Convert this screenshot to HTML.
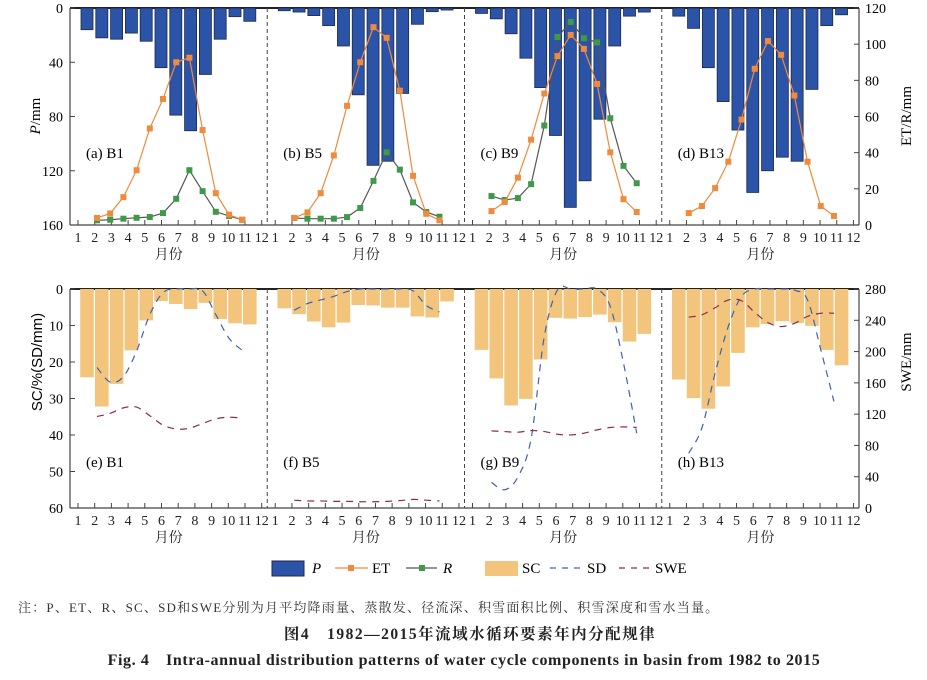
<!DOCTYPE html>
<html><head><meta charset="utf-8">
<style>
body{margin:0;background:#fff;width:927px;height:675px;overflow:hidden;font-family:"Liberation Serif","Noto Serif CJK SC",serif;}
svg text{font-family:"Liberation Serif","Noto Serif CJK SC",serif;}
</style></head>
<body>
<svg id="chart" width="927" height="675" xmlns="http://www.w3.org/2000/svg"></svg>
<script>
const months = [1,2,3,4,5,6,7,8,9,10,11,12];
const panelNames = ["B1","B5","B9","B13"];
const topLabels = ["(a) B1","(b) B5","(c) B9","(d) B13"];
const botLabels = ["(e) B1","(f) B5","(g) B9","(h) B13"];
const pTicks = [0,40,80,120,160];
const etTicks = [0,20,40,60,80,100,120];
const scTicks = [0,10,20,30,40,50,60];
const sweTicks = [0,40,80,120,160,200,240,280];

const P_B1 = [16,22,23,18.5,24.5,44,79,90.5,49,23,6.4,9.8];
const P_B5 = [2,3,5.6,13,28,64,116,113,63,12,2.7,1.5];
const P_B9 = [4,8,19,37,58.7,94,147,127.4,82,28,6,3];
const P_B13 = [6,15,44,69,90,136,120,110,113,60,13,5];
const ET_B1 = [3.9,6.4,15.4,30.3,53.4,69.7,90,92.5,52.5,17.6,5.7,2.9];
const ET_B5 = [3.9,7,17.6,38.5,65.9,90,109.4,103.5,74.3,27.2,6.2,2.6];
const ET_B9 = [7.7,12.7,26.2,47.2,72.7,93.4,105.1,97.4,78,40.2,14.3,7.2];
const ET_B13 = [6.6,10.5,20.4,35,58.3,86.4,101.7,94.1,71.6,35,10.5,5];
const R_B1 = [2.6,2.9,3.5,4,4.4,6.6,14.5,30.3,18.7,7.3,5,2.9];
const R_B5 = [3.9,3.5,3.5,3.5,4.4,9.4,24.4,40.2,30.6,12.5,7.2,4.6];
const R_B9 = [16,13.8,14.9,22.6,55,104,112.3,103.3,101,59,32.7,23.1];
const R_B13 = null;
const SC_B1 = [24.2,32.2,26,16.8,8.6,3.3,4.1,5.5,3.8,8.2,9.4,9.7];
const SC_B5 = [5.3,6.9,8.9,10.5,9.2,4.4,4.5,5.1,5.1,7.5,7.8,3.4];
const SC_B9 = [16.7,24.5,31.9,30.1,19.3,7.9,8.1,7.7,7,9.1,14.4,12.3];
const SC_B13 = [24.8,29.9,32.8,26.7,17.5,10.5,9.6,8.8,9.3,10.1,16.7,20.9];
const SD_B1 = [21.5,25.5,24,17,7,1,0,0,0.5,7,13.5,16.8];
const SD_B5 = [5.8,4,3,2,0.7,0,0,0,0,0.5,4.5,6.3];
const SD_B9 = [53,55,51.5,41,13,0.2,0,0,0,4.8,20.3,39.5];
const SD_B13 = [45,38,23,10.2,2,0,0,0,0.3,3,16.6,30.8];
const SWE_B1 = [117,121,128,129,118,106,101,102,108,114,116,115];
const SWE_B5 = [10,9,9,8.5,8.5,8,8,8.5,9.5,11,10,9];
const SWE_B9 = [98.6,97.7,96.9,99,97.7,94.3,93.4,95.6,99.9,102.9,103.7,103];
const SWE_B13 = [244,247,256,266,265,250,237,232,236,245,249,249];

const P_all=[P_B1,P_B5,P_B9,P_B13], ET_all=[ET_B1,ET_B5,ET_B9,ET_B13], R_all=[R_B1,R_B5,R_B9,R_B13];
const SC_all=[SC_B1,SC_B5,SC_B9,SC_B13], SD_all=[SD_B1,SD_B5,SD_B9,SD_B13], SWE_all=[SWE_B1,SWE_B5,SWE_B9,SWE_B13];

const NS="http://www.w3.org/2000/svg";
const svg=document.getElementById('chart');
function el(tag,attrs,parent,text){const e=document.createElementNS(NS,tag);for(const k in attrs)e.setAttribute(k,attrs[k]);if(text!==undefined)e.textContent=text;(parent||svg).appendChild(e);return e;}

const X0=70,X1=859,PW=(X1-X0)/4;
const T={top:8,bot:225}, B={top:289,bot:508};
const xTick=(p,m)=>X0+p*PW+8+(m-1)*16.7;
const xBar=(p,m)=>X0+p*PW+17+(m-1)*14.8;
const xPt=(p,m)=>X0+p*PW+27+(m-1)*13.2;
const yP=v=>T.top+v*(T.bot-T.top)/160;
const yET=v=>T.bot-v*(T.bot-T.top)/120;
const ySC=v=>B.top+v*(B.bot-B.top)/60;
const ySWE=v=>B.bot-v*(B.bot-B.top)/280;

function smooth(pts){let d=`M${pts[0][0]},${pts[0][1]}`;for(let i=0;i<pts.length-1;i++){const p0=pts[i-1]||pts[i],p1=pts[i],p2=pts[i+1],p3=pts[i+2]||p2;d+=` C${p1[0]+(p2[0]-p0[0])/6},${p1[1]+(p2[1]-p0[1])/6} ${p2[0]-(p3[0]-p1[0])/6},${p2[1]-(p3[1]-p1[1])/6} ${p2[0]},${p2[1]}`;}return d;}

function frame(A,isTop){
  const g=el('g',{},svg);
  
  
  el('line',{x1:X0,y1:A.top,x2:X1,y2:A.top,stroke:'#222','stroke-width':2},g);
  el('line',{x1:X0,y1:A.bot,x2:X1,y2:A.bot,stroke:'#444','stroke-width':1.2},g);
  el('line',{x1:X0,y1:A.top,x2:X0,y2:A.bot,stroke:'#444','stroke-width':1.2},g);
  el('line',{x1:X1,y1:A.top,x2:X1,y2:A.bot,stroke:'#444','stroke-width':1.2},g);
  for(let p=1;p<4;p++){const x=X0+p*PW;el('line',{x1:x,y1:A.top,x2:x,y2:A.bot,stroke:'#444','stroke-width':1,'stroke-dasharray':'4,3'},g);}
  for(let p=0;p<4;p++){
    months.forEach(m=>{const x=xTick(p,m);el('line',{x1:x,y1:A.bot,x2:x,y2:A.bot-5,stroke:'#444'},g);
      const t=el('text',{x:x,y:A.bot+17,'font-size':14,'text-anchor':'middle',fill:'#222'},g,String(m));
      });
    const xl=el('text',{x:X0+p*PW+PW/2,y:A.bot+34,'font-size':14,'text-anchor':'middle',fill:'#222'},g,'月份');
    
  }
}
frame(T,true);frame(B,false);

pTicks.forEach(v=>{const y=yP(v);el('line',{x1:X0,y1:y,x2:X0+5,y2:y,stroke:'#444'});
  const t=el('text',{x:X0-7,y:y+5,'font-size':14,'text-anchor':'end'},svg,String(v));});
etTicks.forEach(v=>{const y=yET(v);el('line',{x1:X1,y1:y,x2:X1-5,y2:y,stroke:'#444'});
  const t=el('text',{x:X1+6,y:y+5,'font-size':14},svg,String(v));});
scTicks.forEach(v=>{const y=ySC(v);el('line',{x1:X0,y1:y,x2:X0+5,y2:y,stroke:'#444'});
  const t=el('text',{x:X0-7,y:y+5,'font-size':14,'text-anchor':'end'},svg,String(v));});
sweTicks.forEach(v=>{const y=ySWE(v);el('line',{x1:X1,y1:y,x2:X1-5,y2:y,stroke:'#444'});
  const t=el('text',{x:X1+6,y:y+5,'font-size':14},svg,String(v));});

let t;
t=el('text',{transform:'translate(40,116) rotate(-90)','font-size':15,'text-anchor':'middle'},svg);
el('tspan',{'font-style':'italic'},t,'P');el('tspan',{},t,'/mm');
t=el('text',{transform:'translate(911,116) rotate(-90)','font-size':15,'text-anchor':'middle'},svg,'ET/R/mm');
t=el('text',{transform:'translate(42,362) rotate(-90)','font-size':15,'text-anchor':'middle',style:'font-family:"Liberation Sans",sans-serif'},svg,'SC/%(SD/mm)');
t=el('text',{transform:'translate(911,362) rotate(-90)','font-size':15,'text-anchor':'middle'},svg,'SWE/mm');

for(let p=0;p<4;p++){
  P_all[p].forEach((v,i)=>{const x=xBar(p,months[i]);const r=el('rect',{x:x-6,y:T.top,width:12,height:yP(v)-T.top,fill:'#2b53a8',stroke:'#1c2a48','stroke-width':0.8});
    });
  SC_all[p].forEach((v,i)=>{const x=xBar(p,months[i]);const r=el('rect',{x:x-6.8,y:B.top,width:13.6,height:ySC(v)-B.top,fill:'#f3c47c'});
    });
  if(R_all[p]){const pts=R_all[p].map((v,i)=>[xPt(p,months[i]),yET(v)]);
    const l=el('polyline',{points:pts.map(q=>q.join(',')).join(' '),fill:'none',stroke:'#555','stroke-width':1.2});
    pts.forEach(q=>{const m=el('rect',{x:q[0]-3,y:q[1]-3,width:6,height:6,fill:'#3e9a48'});});}
  {const pts=ET_all[p].map((v,i)=>[xPt(p,months[i]),yET(v)]);
    const l=el('polyline',{points:pts.map(q=>q.join(',')).join(' '),fill:'none',stroke:'#f08a3c','stroke-width':1.2});
    pts.forEach(q=>{const m=el('rect',{x:q[0]-3,y:q[1]-3,width:6,height:6,fill:'#f08a3c'});});}
  {const pts=SD_all[p].map((v,i)=>[xPt(p,months[i]),ySC(v)]);
    const l=el('path',{d:smooth(pts),fill:'none',stroke:'#3d63b0','stroke-width':1.2,'stroke-dasharray':'7,6'});}
  {const pts=SWE_all[p].map((v,i)=>[xPt(p,months[i]),ySWE(v)]);
    const l=el('path',{d:smooth(pts),fill:'none',stroke:'#8c2b4d','stroke-width':1.2,'stroke-dasharray':'7,6'});}
  t=el('text',{x:X0+p*PW+16,y:158,'font-size':15},svg,topLabels[p]);
  t=el('text',{x:X0+p*PW+16,y:467,'font-size':15},svg,botLabels[p]);
}

const lg=el('g',{},svg);
el('rect',{x:272,y:561,width:32,height:15,fill:'#2b53a8',stroke:'#1c2a48'},lg);
el('text',{x:312,y:573,'font-size':15,'font-style':'italic'},lg,'P');
el('line',{x1:335,y1:568,x2:368,y2:568,stroke:'#f08a3c','stroke-width':1.2},lg);el('rect',{x:348,y:565,width:6,height:6,fill:'#f08a3c'},lg);
el('text',{x:372,y:573,'font-size':15},lg,'ET');
el('line',{x1:406,y1:568,x2:437,y2:568,stroke:'#555','stroke-width':1.2},lg);el('rect',{x:419,y:565,width:6,height:6,fill:'#3e9a48'},lg);
el('text',{x:443,y:573,'font-size':15,'font-style':'italic'},lg,'R');
el('rect',{x:485,y:561,width:33,height:15,fill:'#f3c47c'},lg);
el('text',{x:522,y:573,'font-size':15},lg,'SC');
el('line',{x1:550,y1:568,x2:582,y2:568,stroke:'#3d63b0','stroke-width':1.2,'stroke-dasharray':'6,6'},lg);
el('text',{x:587,y:573,'font-size':15},lg,'SD');
el('line',{x1:619,y1:568,x2:651,y2:568,stroke:'#8c2b4d','stroke-width':1.2,'stroke-dasharray':'6,6'},lg);
el('text',{x:655,y:573,'font-size':15},lg,'SWE');

t=el('text',{x:18,y:612,'font-size':13,fill:'#333','letter-spacing':'1.2'},svg,'注：P、ET、R、SC、SD和SWE分别为月平均降雨量、蒸散发、径流深、积雪面积比例、积雪深度和雪水当量。');
t=el('text',{x:470,y:639,'font-size':15.5,'font-weight':'bold','text-anchor':'middle',fill:'#222','letter-spacing':'1.5'},svg,'图4　1982—2015年流域水循环要素年内分配规律');
t=el('text',{x:464,y:665,'font-size':16,'font-weight':'bold','text-anchor':'middle',fill:'#222','letter-spacing':'0.6'},svg,'Fig. 4　Intra-annual distribution patterns of water cycle components in basin from 1982 to 2015');
</script>
</body></html>
